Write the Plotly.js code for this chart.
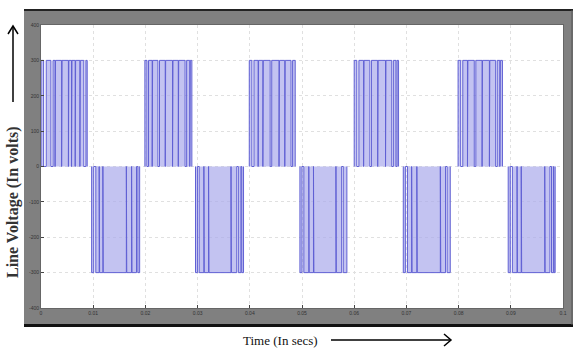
<!DOCTYPE html>
<html>
<head>
<meta charset="utf-8">
<script src="https://cdn.plot.ly/plotly-3.0.1.min.js"></script>
<style>html,body{margin:0;padding:0;background:#fff;}#chart{width:573px;height:350px;}</style>
</head>
<body>
<div id="chart"></div>
<script>
// Pulse amplitude (volts)
var amplitude = 300;
// PWM pulses per half-cycle: [start, end] in milliseconds
var pos1 = [[0.0,0.5],[1.0,1.9],[2.3,2.7],[2.78,3.95],[4.03,5.25],[5.33,5.85],[5.93,6.55],[6.63,7.45],[7.53,8.2],[8.6,8.85]];
var neg1 = [[9.7,10.1],[10.5,11.15],[11.23,11.85],[11.93,16.35],[16.43,17.35],[17.43,18.3],[18.55,18.9]];
var pos2 = [[19.9,20.3],[20.6,21.3],[21.38,22.4],[22.7,23.8],[23.88,25.2],[25.28,26.3],[26.38,27.6],[27.9,28.5],[28.6,28.9]];
var neg2 = [[29.6,30.0],[30.3,31.2],[31.28,32.1],[32.18,36.4],[36.48,37.5],[37.8,38.3],[38.45,38.8]];
var pos3 = [[39.9,40.4],[40.8,41.6],[41.68,42.5],[42.58,43.9],[44.2,45.6],[45.68,46.7],[46.78,47.9],[48.2,48.7]];
var neg3 = [[49.6,50.0],[50.35,51.3],[51.38,52.2],[52.28,56.5],[56.58,57.6],[57.9,58.6]];
var pos4 = [[60.0,60.5],[60.9,61.8],[61.88,63.0],[63.3,64.5],[64.58,66.0],[66.08,67.2],[67.5,68.0],[68.2,68.5]];
var neg4 = [[69.4,69.8],[70.2,71.0],[71.08,72.0],[72.08,76.5],[76.58,77.5],[77.8,78.4]];
var pos5 = [[79.9,80.4],[80.8,81.7],[81.78,83.0],[83.3,84.5],[84.58,85.9],[85.98,87.1],[87.4,87.9],[88.0,88.4]];
var neg5 = [[89.5,89.9],[90.3,91.2],[91.28,92.0],[92.08,96.5],[96.58,97.5],[97.8,98.2],[98.3,98.5]];
// Axis ticks
var xTicks = [0,0.01,0.02,0.03,0.04,0.05,0.06,0.07,0.08,0.09,0.1];
var xTickText = ['0','0.01','0.02','0.03','0.04','0.05','0.06','0.07','0.08','0.09','0.1'];
var yTicks = [-400,-300,-200,-100,0,100,200,300,400];
var yTickText = ['-400','-300','-200','-100','0','100','200','300','400'];

var halfCycles = [[pos1,1],[neg1,-1],[pos2,1],[neg2,-1],[pos3,1],[neg3,-1],[pos4,1],[neg4,-1],[pos5,1],[neg5,-1]];
var tx = [], vy = [];
halfCycles.forEach(function(hc, i){
  if (i > 0) { tx.push(null); vy.push(null); }
  hc[0].forEach(function(p){
    var a = p[0]/1000, b = p[1]/1000, v = hc[1]*amplitude;
    tx.push(a, a, b, b); vy.push(0, v, v, 0);
  });
});

// layout pixel helpers (plot area: x 41..563, y 25..308)
var L = 41, R = 563, T = 25, B = 308;
function px(p){ return (p - L) / (R - L); }
function py(p){ return (B - p) / (B - T); }

var shapes = [
  {type:'rect', xref:'paper', yref:'paper', x0:px(24), x1:px(573), y0:py(325), y1:py(10), fillcolor:'#808080', line:{width:0}, layer:'below'},
  {type:'rect', xref:'paper', yref:'paper', x0:0, x1:1, y0:0, y1:1, fillcolor:'#ffffff', line:{width:0}, layer:'below'},
  {type:'line', xref:'paper', yref:'paper', x0:px(24), x1:px(573), y0:py(10), y1:py(10), line:{color:'#222', width:2}},
  {type:'line', xref:'paper', yref:'paper', x0:px(24), x1:px(573), y0:py(325.5), y1:py(325.5), line:{color:'#111', width:3}},
  {type:'line', xref:'paper', yref:'paper', x0:px(572), x1:px(572), y0:py(325), y1:py(10), line:{color:'#555', width:1}},
  // y arrow
  {type:'line', xref:'paper', yref:'paper', x0:px(13), x1:px(13), y0:py(102), y1:py(26), line:{color:'#000', width:1.5}},
  {type:'path', xref:'paper', yref:'paper', path:'M '+px(8)+' '+py(34)+' L '+px(13)+' '+py(26)+' L '+px(18)+' '+py(34), line:{color:'#000', width:1.5}},
  // x arrow
  {type:'line', xref:'paper', yref:'paper', x0:px(331), x1:px(451), y0:py(340), y1:py(340), line:{color:'#000', width:1.5}},
  {type:'path', xref:'paper', yref:'paper', path:'M '+px(444)+' '+py(334)+' L '+px(451)+' '+py(340)+' L '+px(444)+' '+py(346), line:{color:'#000', width:1.5}}
];

var annotations = [
  {xref:'paper', yref:'paper', x:px(13), y:py(202), text:'<b>Line Voltage (In volts)</b>', textangle:-90, showarrow:false,
   font:{family:'Liberation Serif, Times New Roman, serif', size:16, color:'#333'}, xanchor:'center', yanchor:'middle'},
  {xref:'paper', yref:'paper', x:px(280), y:py(340), text:'Time (In secs)', showarrow:false,
   font:{family:'Liberation Serif, Times New Roman, serif', size:13, color:'#111'}, xanchor:'center', yanchor:'middle'}
];

var trace = {
  x: tx, y: vy, type:'scatter', mode:'lines', connectgaps:false,
  line:{color:'#6060d4', width:1},
  fill:'tozeroy', fillcolor:'rgba(170,170,235,0.7)',
  hoverinfo:'skip'
};

var layout = {
  width:573, height:350,
  margin:{l:L, r:573-R, t:T, b:350-B},
  paper_bgcolor:'#ffffff', plot_bgcolor:'#ffffff',
  showlegend:false,
  xaxis:{range:[0,0.1], tickvals:xTicks, ticktext:xTickText, showgrid:true, gridcolor:'#e0e0e0', griddash:'dot', gridwidth:1,
         zeroline:false, showline:true, linecolor:'#666', mirror:true, ticks:'inside', ticklen:3, tickcolor:'#444',
         tickfont:{size:5, color:'#333', family:'Liberation Sans, Arial'}},
  yaxis:{range:[-400,400], tickvals:yTicks, ticktext:yTickText, showgrid:true, gridcolor:'#e0e0e0', griddash:'dot', gridwidth:1,
         zeroline:false, showline:true, linecolor:'#666', mirror:true, ticks:'inside', ticklen:3, tickcolor:'#444',
         tickfont:{size:5, color:'#333', family:'Liberation Sans, Arial'}},
  shapes: shapes,
  annotations: annotations
};

Plotly.newPlot('chart', [trace], layout, {displayModeBar:false, staticPlot:true});
</script>
</body>
</html>
